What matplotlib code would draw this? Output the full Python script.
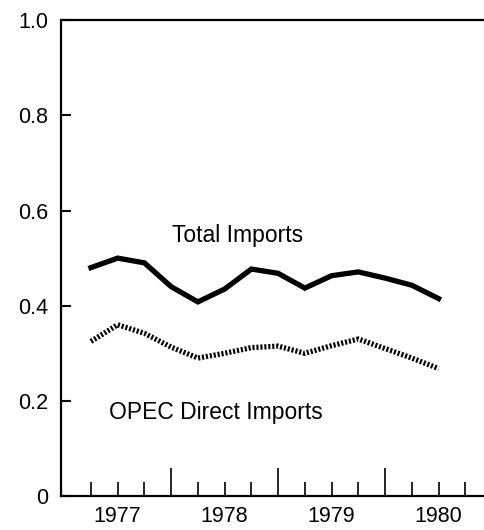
import numpy as np
import matplotlib.pyplot as plt
from matplotlib.ticker import FixedLocator

plt.rcParams['font.family'] = ['Liberation Sans', 'DejaVu Sans']

# quarterly points, 1977 Q1 end through 1980 Q2 end
quarters = [1977.25, 1977.5, 1977.75, 1978.0, 1978.25, 1978.5, 1978.75,
            1979.0, 1979.25, 1979.5, 1979.75, 1980.0, 1980.25, 1980.5]
total_imports = [0.48, 0.50, 0.49, 0.44, 0.408, 0.435, 0.477,
                 0.468, 0.437, 0.463, 0.471, 0.458, 0.443, 0.415]
opec_direct = [0.325, 0.36, 0.342, 0.313, 0.29, 0.30, 0.312,
               0.315, 0.30, 0.316, 0.33, 0.31, 0.29, 0.268]

year_labels = ['1977', '1978', '1979', '1980']
year_centers = [1977.5, 1978.5, 1979.5, 1980.5]
year_bounds = [1978, 1979, 1980]
quarter_ticks = [1977.25, 1977.5, 1977.75, 1978.25, 1978.5, 1978.75,
                 1979.25, 1979.5, 1979.75, 1980.25, 1980.5, 1980.75]
y_ticks = [0, 0.2, 0.4, 0.6, 0.8, 1.0]
y_labels = ['0', '0.2', '0.4', '0.6', '0.8', '1.0']

fig = plt.figure(figsize=(4.84, 5.30), dpi=100)
ax = fig.add_axes([0.126, 0.064, 0.874, 0.898])

ax.plot(quarters, total_imports, color='black', linewidth=3.8, solid_joinstyle='miter')
ax.plot(quarters, opec_direct, color='black', linewidth=3.8,
        linestyle=(0, (0.4, 0.35)), dash_capstyle='butt')

ax.text(1978.62, 0.548, 'Total Imports', fontsize=16.5, ha='center', va='center')
ax.text(1977.42, 0.176, 'OPEC Direct Imports', fontsize=16.5, ha='left', va='center')

ax.set_xlim(1976.97, 1980.925)
ax.set_ylim(0, 1.0)

ax.spines['right'].set_visible(False)
for s in ['left', 'top', 'bottom']:
    ax.spines[s].set_linewidth(1.6)

ax.set_yticks(y_ticks)
ax.set_yticklabels(y_labels, fontsize=15.5)
ax.tick_params(axis='y', direction='in', length=7, width=1.5, pad=9)

# long ticks at year boundaries, short ones every quarter
ax.xaxis.set_major_locator(FixedLocator(year_bounds))
ax.set_xticklabels(['', '', ''])
ax.xaxis.set_minor_locator(FixedLocator(quarter_ticks))
minor_labels = [year_labels[year_centers.index(q)] if q in year_centers else '' for q in quarter_ticks]
ax.set_xticklabels(minor_labels, minor=True, fontsize=15.5)
ax.tick_params(axis='x', which='major', direction='in', length=20, width=1.2)
ax.tick_params(axis='x', which='minor', direction='in', length=10, width=1.2, pad=7)

fig.savefig('out.png', dpi=100)
